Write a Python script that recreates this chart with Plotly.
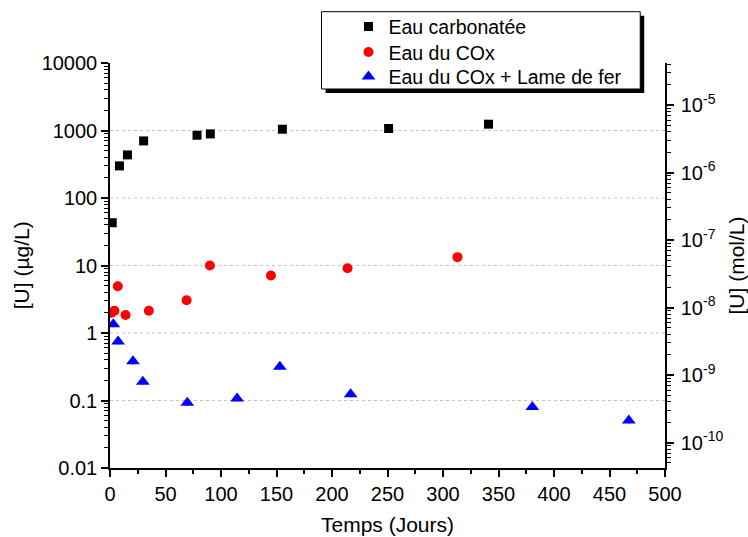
import plotly.graph_objects as go
import math

# ---- data ----
carb_x = [2, 8.5, 15.7, 30.3, 78.4, 90.4, 155.3, 251, 341]
carb_y = [43, 299, 435, 701, 851, 891, 1045, 1071, 1240]

cox_x = [1.5, 4, 7, 14, 35, 69, 90, 145, 214, 313]
cox_y = [2.0, 2.13, 4.94, 1.85, 2.13, 3.06, 10, 7.1, 9.1, 13.3]

fer_x = [3, 7.3, 20.7, 29.6, 69.6, 114.5, 153, 216.8, 380.5, 467.4]
fer_y = [1.35, 0.75, 0.38, 0.19, 0.093, 0.107, 0.315, 0.124, 0.080, 0.0506]
fer_err_pct = [20, 20, 20, 20, 20, 20, 20, 20, 20, 20]

left_ticks = [0.01, 0.1, 1, 10, 100, 1000, 10000]
left_ticktext = ["0.01", "0.1", "1", "10", "100", "1000", "10000"]
grid_vals = [0.1, 1, 10, 100, 1000]

right_exps = [-10, -9, -8, -7, -6, -5]
right_ticks = [10.0 ** e for e in right_exps]
right_ticktext = ["10<sup>%d</sup>" % e for e in right_exps]

M_U = 238.03  # g/mol, conversion µg/L -> mol/L
y_range = [-2, 4]
conv = math.log10(1e-6 / M_U)
y2_range = [y_range[0] + conv, y_range[1] + conv]

FONT = "Liberation Sans, Arial, sans-serif"

fig = go.Figure()
fig.add_trace(go.Scatter(x=carb_x, y=carb_y, mode="markers", name="Eau carbonatée",
                         marker=dict(symbol="square", size=9, color="black"), legend="legend"))
fig.add_trace(go.Scatter(x=cox_x, y=cox_y, mode="markers", name="Eau du COx",
                         marker=dict(symbol="circle", size=10, color="#ff0000"), legend="legend2"))
fig.add_trace(go.Scatter(x=fer_x, y=fer_y, mode="markers", name="Eau du COx + Lame de fer",
                         marker=dict(symbol="triangle-up", size=12, color="#0000ff"),
                         error_y=dict(type="percent", array=fer_err_pct, visible=True,
                                      color="#0000ff", thickness=1.2, width=0),
                         legend="legend3"))
fig.add_trace(go.Scatter(x=[None], y=[None], yaxis="y2", showlegend=False, hoverinfo="skip"))

# dashed grid lines at decades
for g in grid_vals:
    fig.add_shape(type="line", xref="paper", x0=0, x1=1, yref="y", y0=g, y1=g,
                  line=dict(color="#c4c4c4", width=1, dash="3px,3px"), layer="below")

# legend box with shadow
PW, PH = 555.5, 405.0
L_x0, L_x1 = (322 - 110.3) / PW, (641 - 110.3) / PW
L_y0, L_y1 = (468 - 89) / PH, (468 - 11.7) / PH
dx, dy = 4 / PW, 4 / PH
fig.add_shape(type="rect", xref="paper", yref="paper", x0=L_x0 + dx, x1=L_x1 + dx,
              y0=L_y0 - dy, y1=L_y1 - dy, fillcolor="black", line=dict(width=0), layer="above")
fig.add_shape(type="rect", xref="paper", yref="paper", x0=L_x0, x1=L_x1,
              y0=L_y0, y1=L_y1, fillcolor="white", line=dict(color="black", width=1), layer="above")

axis_common = dict(showline=True, linecolor="black", linewidth=1.5, ticks="outside",
                   tickcolor="black", tickwidth=1.5, ticklen=7,
                   tickfont=dict(family=FONT, size=20, color="black"),
                   title_font=dict(family=FONT, size=21, color="black"),
                   zeroline=False, showgrid=False, automargin=False)

leg_x = (349 - 110.3) / PW
row_px = [26.7, 52.3, 76.7]
leg_common = dict(x=leg_x, xanchor="left", yanchor="middle", bgcolor="rgba(0,0,0,0)",
                  borderwidth=0, font=dict(family=FONT, size=19.5, color="black"), itemwidth=30)

# left axis title as annotation (sits closer to the edge than the axis title would)
fig.add_annotation(text="[U] (µg/L)", xref="paper", yref="paper",
                   x=(22 - 110.3) / PW, y=0.5, xanchor="center", yanchor="middle",
                   textangle=-90, showarrow=False,
                   font=dict(family=FONT, size=21, color="black"))

fig.update_layout(
    width=748, height=537,
    margin=dict(l=110, r=82.5, t=63, b=69, autoexpand=False),
    paper_bgcolor="white", plot_bgcolor="white",
    font=dict(family=FONT, color="black"),
    showlegend=True,
    legend=dict(y=(468 - row_px[0]) / PH, **leg_common),
    legend2=dict(y=(468 - row_px[1]) / PH, **leg_common),
    legend3=dict(y=(468 - row_px[2]) / PH, **leg_common),
    xaxis=dict(range=[0, 500], dtick=50, tick0=0,
               title=dict(text="Temps (Jours)", standoff=14),
               minor=dict(ticks="outside", dtick=25, ticklen=4, tickcolor="black", tickwidth=1.5),
               **axis_common),
    yaxis=dict(type="log", range=y_range, tickvals=left_ticks, ticktext=left_ticktext,
               minor=dict(ticks="outside", dtick="D1", ticklen=4, tickcolor="black", tickwidth=1),
               **axis_common),
    yaxis2=dict(type="log", range=y2_range, overlaying="y", side="right",
                tickvals=right_ticks, ticktext=right_ticktext, ticklabelstandoff=3,
                title=dict(text="[U] (mol/L)", standoff=8),
                minor=dict(ticks="outside", dtick="D1", ticklen=4, tickcolor="black", tickwidth=1),
                **axis_common),
)

fig.write_html("out.html", config={"displayModeBar": False},
               post_script="document.body.style.margin='0px';")
